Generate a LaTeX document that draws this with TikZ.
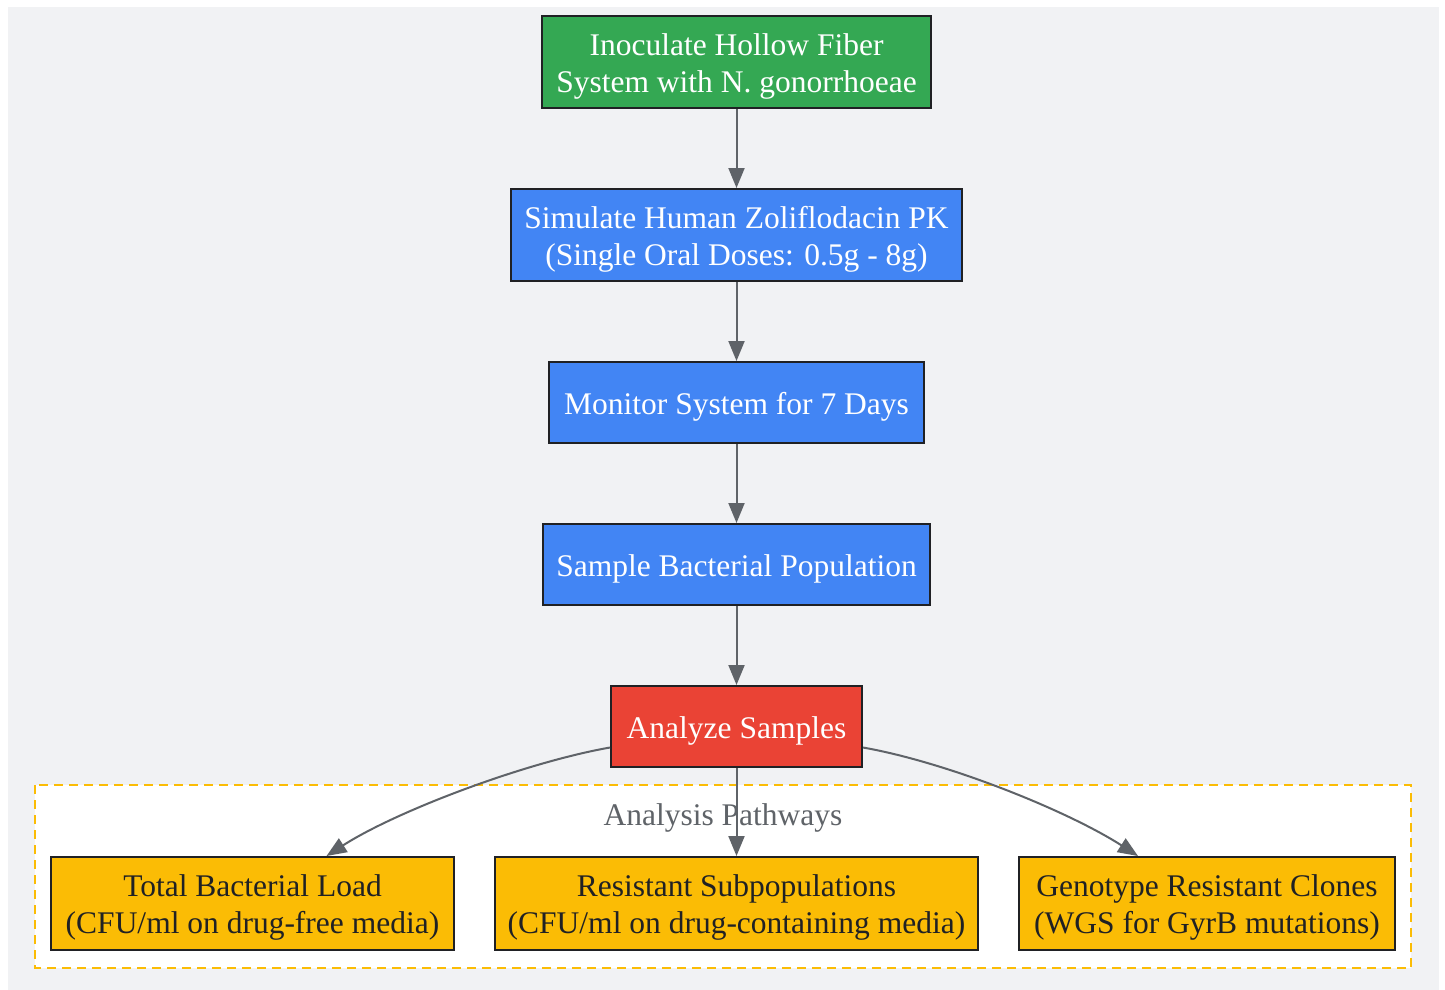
\documentclass[tikz,border=0pt]{standalone}
\usepackage{fontspec}
\setmainfont{Liberation Serif}
\usetikzlibrary{arrows.meta,calc}
\definecolor{bgc}{HTML}{F1F2F4}
\definecolor{gr}{HTML}{34A853}
\definecolor{bl}{HTML}{4285F4}
\definecolor{rd}{HTML}{EA4335}
\definecolor{yl}{HTML}{FBBC05}
\definecolor{edgec}{HTML}{5F6368}
\definecolor{bd}{HTML}{202124}
\begin{document}
\begin{tikzpicture}[x=1pt,y=-1pt,
  txt/.style={font=\fontsize{31.5}{37}\selectfont,align=center,inner sep=0pt},
  box/.style={draw=bd,line width=2pt,inner sep=0pt},
  wt/.style={txt,text=white},
  yt/.style={txt,text=bd},
  conn/.style={draw=edgec,line width=2pt,-{Triangle[length=20pt,width=16pt]}}]
\useasboundingbox (0,0) rectangle (1445,990);
\fill[bgc] (8,7) rectangle (1439,990);
% cluster
\draw[yl,fill=white,line width=2pt,dash pattern=on 9pt off 6pt] (35,785) rectangle (1411,968);
\node[txt,text=edgec] (cl) at (723,818) {Analysis Pathways};
% boxes
\node[box,fill=gr,minimum width=389pt,minimum height=92pt] (n1) at (736.5,62) {};
\node[box,fill=bl,minimum width=451pt,minimum height=92pt] (n2) at (736.5,235) {};
\node[box,fill=bl,minimum width=375pt,minimum height=81pt] (n3) at (736.5,402.5) {};
\node[box,fill=bl,minimum width=387pt,minimum height=81pt] (n4) at (736.5,564.5) {};
\node[box,fill=rd,minimum width=251pt,minimum height=81pt] (n5) at (736.5,726.5) {};
\node[box,fill=yl,minimum width=403pt,minimum height=93pt] (n6) at (252.5,903.5) {};
\node[box,fill=yl,minimum width=483pt,minimum height=93pt] (n7) at (736.5,903.5) {};
\node[box,fill=yl,minimum width=376pt,minimum height=93pt] (n8) at (1207,903.5) {};
% texts
\node[wt] (t1) at ($(n1)+(0,4)$) {Inoculate Hollow Fiber\\System with N. gonorrhoeae};
\node[wt] (t2) at ($(n2)+(0,4)$) {Simulate Human Zoliflodacin PK\\(Single Oral Doses: 0.5g - 8g)};
\node[wt] (t3) at ($(n3)+(0,4)$) {Monitor System for 7 Days};
\node[wt] (t4) at ($(n4)+(0,4)$) {Sample Bacterial Population};
\node[wt] (t5) at ($(n5)+(0,4)$) {Analyze Samples};
\node[yt] (t6) at ($(n6)+(0,4)$) {Total Bacterial Load\\(CFU/ml on drug-free media)};
\node[yt] (t7) at ($(n7)+(0,4)$) {Resistant Subpopulations\\(CFU/ml on drug-containing media)};
\node[yt] (t8) at ($(n8)+(0,4)$) {Genotype Resistant Clones\\(WGS for GyrB mutations)};
% edges
\draw[conn] (n1) -- (n2);
\draw[conn] (n2) -- (n3);
\draw[conn] (n3) -- (n4);
\draw[conn] (n4) -- (n5);
\draw[conn] (n5) -- (n7);
\coordinate (l0) at ($(n5.west)+(0,21)$);
\coordinate (r0) at ($(n5.east)+(0,21)$);
\coordinate (l1) at ($(n6.north)+(74,0)$);
\coordinate (r1) at ($(n8.north)+(-69,0)$);
\draw[conn] (l0) .. controls ($(l0)+(-85,15)$) and ($(l1)+(70,-45)$) .. (l1);
\draw[conn] (r0) .. controls ($(r0)+(85,15)$) and ($(r1)+(-70,-45)$) .. (r1);
\end{tikzpicture}
\end{document}
